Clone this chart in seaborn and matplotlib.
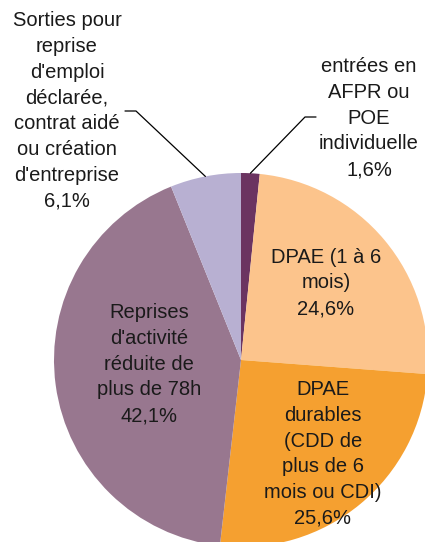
import numpy as np
import matplotlib
matplotlib.use("Agg")
import matplotlib.pyplot as plt
import seaborn as sns

sns.set_style("white")
plt.rcParams["font.family"] = ["Liberation Sans", "DejaVu Sans"]

labels = ["entrées en\nAFPR ou\nPOE\nindividuelle",
          "DPAE (1 à 6\nmois)",
          "DPAE\ndurables\n(CDD de\nplus de 6\nmois ou CDI)",
          "Reprises\nd'activité\nréduite de\nplus de 78h",
          "Sorties pour\nreprise\nd'emploi\ndéclarée,\ncontrat aidé\nou création\nd'entreprise"]
shares = [1.6, 24.6, 25.6, 42.1, 6.1]
colors = sns.color_palette(["#6B3461", "#FCC48C", "#F5A030", "#98778F", "#B8B0D2"])

W, H = 425, 542
cx, cy, R = 241, H - 360, 187

fig = plt.figure(figsize=(W / 100, H / 100), dpi=100)
ax = fig.add_axes([0, 0, 1, 1])

ax.pie(shares, colors=colors, startangle=90, counterclock=False,
       center=(cx, cy), radius=R, wedgeprops=dict(linewidth=0))
ax.set_xlim(0, W)
ax.set_ylim(0, H)
ax.set_aspect("equal")
ax.axis("off")

def pct(v):
    return f"{v:.1f}".replace(".", ",") + "%"

# label centres (pixels from top)
pos = [(369, 118), (326, 283), (323, 454), (149, 364), (67, 111)]
fs = 14.5
for lab, v, (x, y) in zip(labels, shares, pos):
    ax.text(x, H - y, lab + "\n" + pct(v), ha="center", va="center",
            fontsize=fs, color="#1a1a1a", linespacing=1.45)

# leader lines for the two small slices: (slice, line start x, elbow x, y)
cum = np.cumsum([0] + shares)
for i, x0, x1, ly in [(0, 316, 305, 117), (4, 125, 136, 111)]:
    mid = (cum[i] + shares[i] / 2) / 100 * 2 * np.pi
    ex, ey = cx + R * np.sin(mid), cy + R * np.cos(mid)
    ax.plot([x0, x1, ex], [H - ly, H - ly, ey], color="black", lw=0.9)

fig.savefig("out.png", dpi=100)
